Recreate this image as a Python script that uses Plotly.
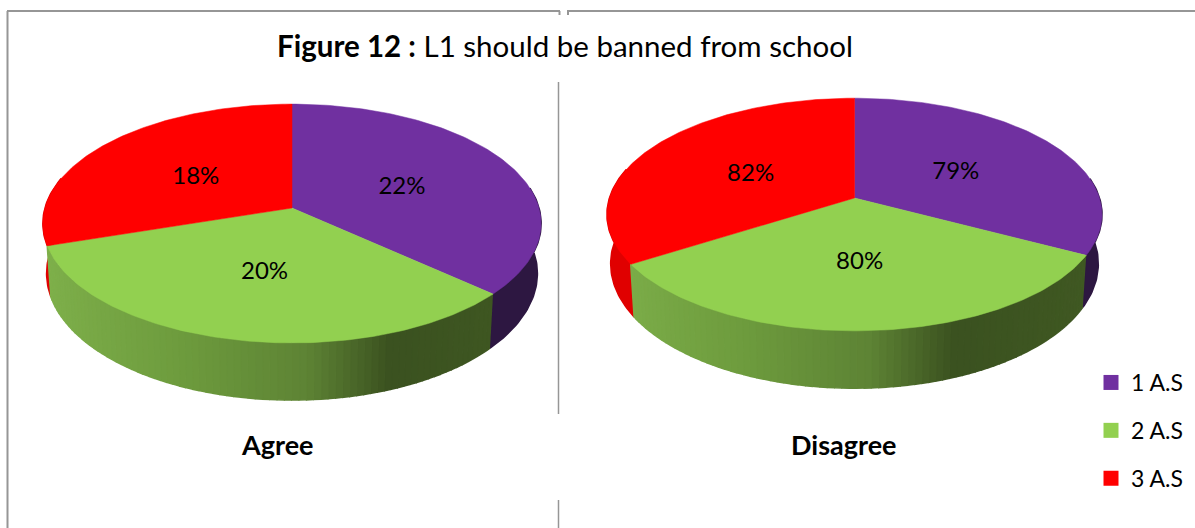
import numpy as np
import plotly.graph_objects as go

# Survey answers per academic year
categories = ["1 A.S", "2 A.S", "3 A.S"]
agree_values = [22, 20, 18]
disagree_values = [79, 80, 82]
group_labels = ["Agree", "Disagree"]
title_bold = "Figure 12 :"
title_plain = "L1 should be banned from school"

top_colors = ["#7030A0", "#92D050", "#FF0000"]
wall_colors = {0: "#2D1741", 2: "#E00000"}
# Shading of the green wall, by horizontal position across the disc
green_stops = [(-1.0, (128, 178, 76)), (-0.4, (110, 156, 62)), (0.05, (94, 132, 53)),
               (0.35, (59, 82, 32)), (1.0, (65, 90, 35))]

FONT = "Lato"
W, H = 1195, 528


def project(theta, r, geo, lower=False):
    """Perspective view of a disc point; theta is clockwise from the far side."""
    u = r * np.sin(theta)
    v = -r * np.cos(theta)
    w = 1 - geo["k"] * v
    x = u / w * geo["R"]
    y = v / w * geo["s"]
    if lower:
        x = x * 0.985
        y = y * (1 + geo["grow"]) + geo["drop"]
    return geo["cx"] + x, geo["cy"] + y


def green_shade(pos):
    xs = [p for p, _ in green_stops]
    rgb = [np.interp(pos, xs, [c[i] for _, c in green_stops]) for i in range(3)]
    return "rgb(%d,%d,%d)" % tuple(rgb)


def add_wall_piece(fig, geo, t0, t1, color):
    ts = np.linspace(t0, t1, max(2, int(np.degrees(t1 - t0)) + 1))
    xa, ya = project(ts, 1, geo)
    xb, yb = project(ts[::-1], 1, geo, lower=True)
    fig.add_trace(go.Scatter(
        x=np.concatenate([xa, xb]), y=np.concatenate([ya, yb]),
        mode="lines", fill="toself", fillcolor=color,
        line=dict(color=color, width=1.6), hoverinfo="skip", showlegend=False))


def add_pie(fig, values, label, geo):
    fractions = np.array(values, dtype=float) / sum(values)
    edges = np.concatenate([[0], np.cumsum(fractions)]) * 2 * np.pi

    # Side wall: flat pieces for purple and red, narrow strips for the green gradient
    add_wall_piece(fig, geo, np.radians(80), edges[1], wall_colors[0])
    add_wall_piece(fig, geo, edges[2], np.radians(285), wall_colors[2])
    step = np.radians(1.5)
    for t0 in np.arange(edges[1], edges[2] - step / 2, step):
        t1 = min(t0 + step, edges[2])
        add_wall_piece(fig, geo, t0, t1, green_shade(np.sin((t0 + t1) / 2)))

    # Top face
    for i, name in enumerate(categories):
        ts = np.linspace(edges[i], edges[i + 1], 120)
        xr, yr = project(ts, 1, geo)
        fig.add_trace(go.Scatter(
            x=np.concatenate([[geo["cx"]], xr, [geo["cx"]]]),
            y=np.concatenate([[geo["cy"]], yr, [geo["cy"]]]),
            mode="lines", fill="toself", fillcolor=top_colors[i],
            line=dict(color=top_colors[i], width=0.5),
            name=name, text=f"{label}: {values[i]}%", hoverinfo="text", showlegend=False))

    # Percentage labels halfway out along each slice
    mids = (edges[:-1] + edges[1:]) / 2
    xt, yt = project(mids, 0.5, geo)
    fig.add_trace(go.Scatter(
        x=xt, y=yt + 3.5, mode="text", text=[f"{v}%" for v in values],
        textposition="middle center",
        textfont=dict(family=FONT, size=24, color="#000000"),
        hoverinfo="skip", showlegend=False))


fig = go.Figure()
add_pie(fig, agree_values, group_labels[0],
        dict(cx=292, cy=208, R=247, s=117.4, k=0.13, drop=49, grow=0.06))
add_pie(fig, disagree_values, group_labels[1],
        dict(cx=854.5, cy=198, R=245, s=114, k=0.142, drop=48, grow=0.07))

# Legend swatches
for i, name in enumerate(categories):
    fig.add_trace(go.Scatter(
        x=[None], y=[None], mode="markers", name=name, legendgroup=name,
        marker=dict(symbol="square", size=15, color=top_colors[i])))

frame = "#969696"
segments = [
    (7.5, 11, 7.5, 528, 2), (7, 11, 560, 11, 2), (567, 11, 1195, 11, 2),
    (559.5, 11, 559.5, 15, 2), (568, 11, 568, 15, 2),
    (558.5, 82, 558.5, 414, 1.5), (558.5, 500, 558.5, 528, 1.5),
]
shapes = [dict(type="line", x0=a, y0=b, x1=c, y1=d, layer="below",
               line=dict(color=frame, width=w)) for a, b, c, d, w in segments]

annotations = [
    dict(x=277, y=444, text=f"<b>{group_labels[0]}</b>"),
    dict(x=844, y=444, text=f"<b>{group_labels[1]}</b>"),
]
for a in annotations:
    a.update(xref="x", yref="y", showarrow=False, xanchor="center", yanchor="middle",
             font=dict(family=FONT, size=27, color="#000000"))

fig.update_layout(
    width=W, height=H, autosize=False,
    margin=dict(l=0, r=0, t=0, b=0),
    paper_bgcolor="#FFFFFF", plot_bgcolor="#FFFFFF",
    title=dict(text=f"<b>{title_bold}</b> {title_plain}",
               x=565 / W, xref="paper", xanchor="center",
               y=1 - 47 / H, yref="container", yanchor="middle",
               font=dict(family=FONT, size=29.5, color="#000000")),
    xaxis=dict(range=[0, W], visible=False, fixedrange=True),
    yaxis=dict(range=[H, 0], visible=False, fixedrange=True),
    shapes=shapes, annotations=annotations,
    legend=dict(x=1091 / W, y=1 - 361 / H, xanchor="left", yanchor="top",
                tracegroupgap=15, bgcolor="rgba(0,0,0,0)",
                font=dict(family=FONT, size=23, color="#000000")),
    showlegend=True,
)

fig.write_html("out.html", config=dict(displayModeBar=False))
